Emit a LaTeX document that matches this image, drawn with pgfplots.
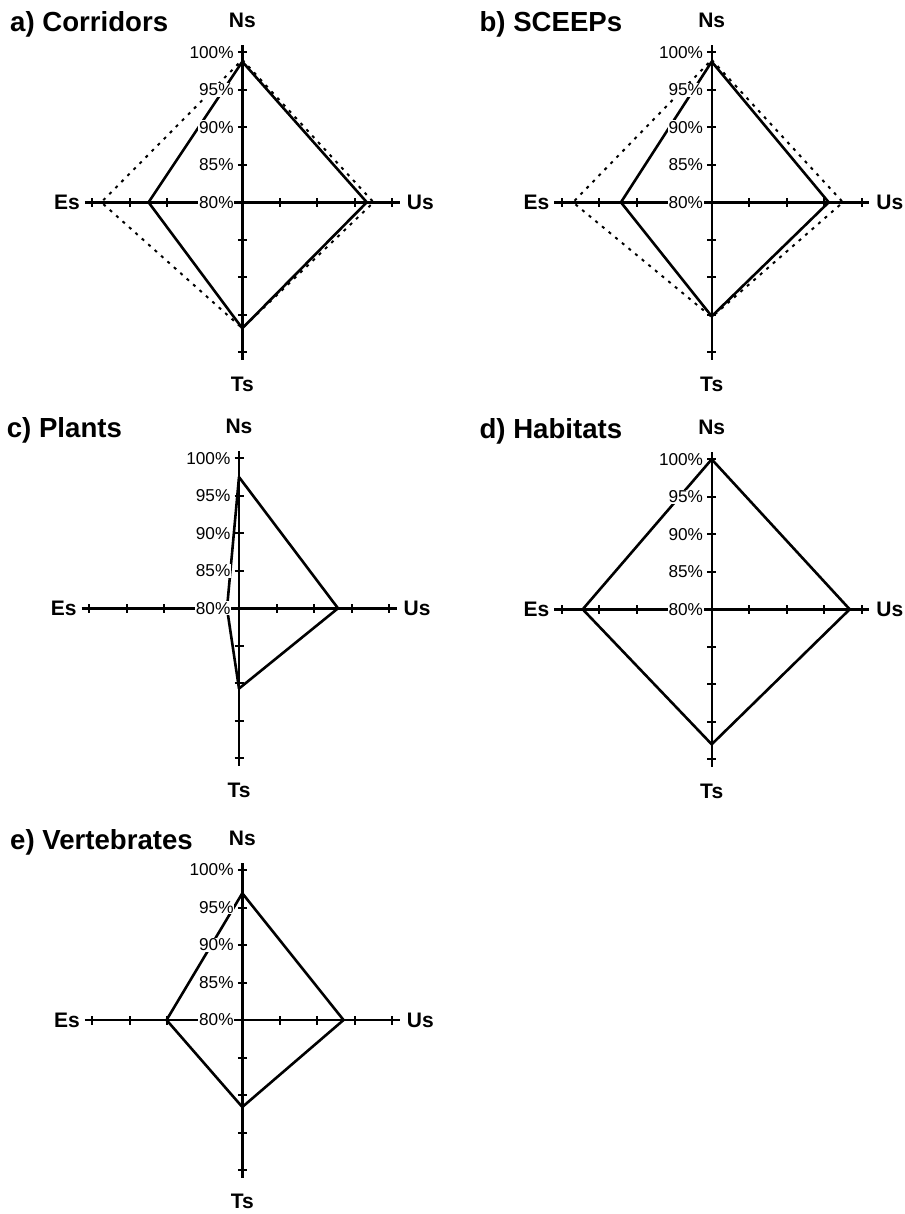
\documentclass[border=0pt]{standalone}
\usepackage{pgfplots}
\usepackage{pgfplotstable}
\pgfplotsset{compat=1.18}
\usepackage{fontspec}
\setmainfont{Liberation Sans}

% one row per arm, first arm repeated to close the diamond
\pgfplotstableread{
arm dx dy corr  corrdot sceep sceepdot plants habit vert
Ns  0  1  98.75 99.0    98.75 99.0     97.5   100.0 96.9
Us  1  0  96.6  97.5    95.6  97.5     93.2   98.4  93.5
Ts  0  -1 96.8  96.8    95.2  95.3     90.7   98.0  91.6
Es  -1 0  92.5  98.8    92.1  98.5     81.6   97.2  90.1
Ns  0  1  98.75 99.0    98.75 99.0     97.5   100.0 96.9
}\values

\pgfplotsset{
  table/radar/.style={
    x expr=\thisrow{dx}*(\thisrow{#1}-80),
    y expr=\thisrow{dy}*(\thisrow{#1}-80)},
  diamond/.style={
    x=3.75pt, y=3.75pt,
    xmin=-21, xmax=21, ymin=-21, ymax=21,
    axis lines=middle,
    axis line style={-, line width=1.2pt},
    every inner x axis line/.append style={-},
    every inner y axis line/.append style={-},
    xtick={-20,-15,-10,-5,5,10,15,20},
    ytick={-20,-15,-10,-5,5,10,15,20},
    xticklabels={}, yticklabels={},
    tick align=center,
    major tick length=4.5pt,
    tick style={line width=1pt, black},
    clip=false,
    anchor=origin},
  solidline/.style={black, line width=1.3pt, no markers, line join=round, line cap=round},
  dotline/.style={black, line width=1pt, no markers, dash pattern=on 1.5pt off 2.8pt},
}

\newcommand\arms[1]{%
  \node[anchor=west, inner sep=0, font=\bfseries\fontsize{13.8}{14}\selectfont] at (axis cs:-31,23.7) {#1};
  \node[inner sep=0, font=\bfseries\fontsize{10.5}{11}\selectfont] at (axis cs:0,24.2) {Ns};
  \node[anchor=north, inner sep=0, font=\bfseries\fontsize{10.5}{11}\selectfont] at (axis cs:0,-23.2) {Ts};
  \node[anchor=east, inner sep=0, font=\bfseries\fontsize{10.5}{11}\selectfont] at (axis cs:-21.6,0) {Es};
  \node[anchor=west, inner sep=0, font=\bfseries\fontsize{10.5}{11}\selectfont] at (axis cs:21.9,0) {Us};
  \node[anchor=east, fill=white, inner sep=0.4pt, font=\fontsize{8.6}{9}\selectfont] at (axis cs:-1,20) {100\%};
  \node[anchor=east, fill=white, inner sep=0.4pt, font=\fontsize{8.6}{9}\selectfont] at (axis cs:-1,15) {95\%};
  \node[anchor=east, fill=white, inner sep=0.4pt, font=\fontsize{8.6}{9}\selectfont] at (axis cs:-1,10) {90\%};
  \node[anchor=east, fill=white, inner sep=0.4pt, font=\fontsize{8.6}{9}\selectfont] at (axis cs:-1,5) {85\%};
  \node[anchor=east, fill=white, inner sep=0.4pt, font=\fontsize{8.6}{9}\selectfont] at (axis cs:-1,0) {80\%};
}

\begin{document}
\begin{tikzpicture}
\path[use as bounding box] (0,0) rectangle (452pt,-607pt);

\begin{axis}[diamond, at={(121.15pt,-101.15pt)}]
  \addplot[dotline] table[radar=corrdot] {\values};
  \addplot[solidline] table[radar=corr] {\values};
  \arms{a) Corridors}
\end{axis}

\begin{axis}[diamond, at={(355.85pt,-101.15pt)}]
  \addplot[dotline] table[radar=sceepdot] {\values};
  \addplot[solidline] table[radar=sceep] {\values};
  \arms{b) SCEEPs}
\end{axis}

\begin{axis}[diamond, at={(119.5pt,-304.15pt)}]
  \addplot[solidline] table[radar=plants] {\values};
  \arms{c) Plants}
\end{axis}

\begin{axis}[diamond, at={(355.85pt,-304.65pt)}]
  \addplot[solidline] table[radar=habit] {\values};
  \arms{d) Habitats}
\end{axis}

\begin{axis}[diamond, at={(121.15pt,-510.0pt)}]
  \addplot[solidline] table[radar=vert] {\values};
  \arms{e) Vertebrates}
\end{axis}
\end{tikzpicture}
\end{document}
